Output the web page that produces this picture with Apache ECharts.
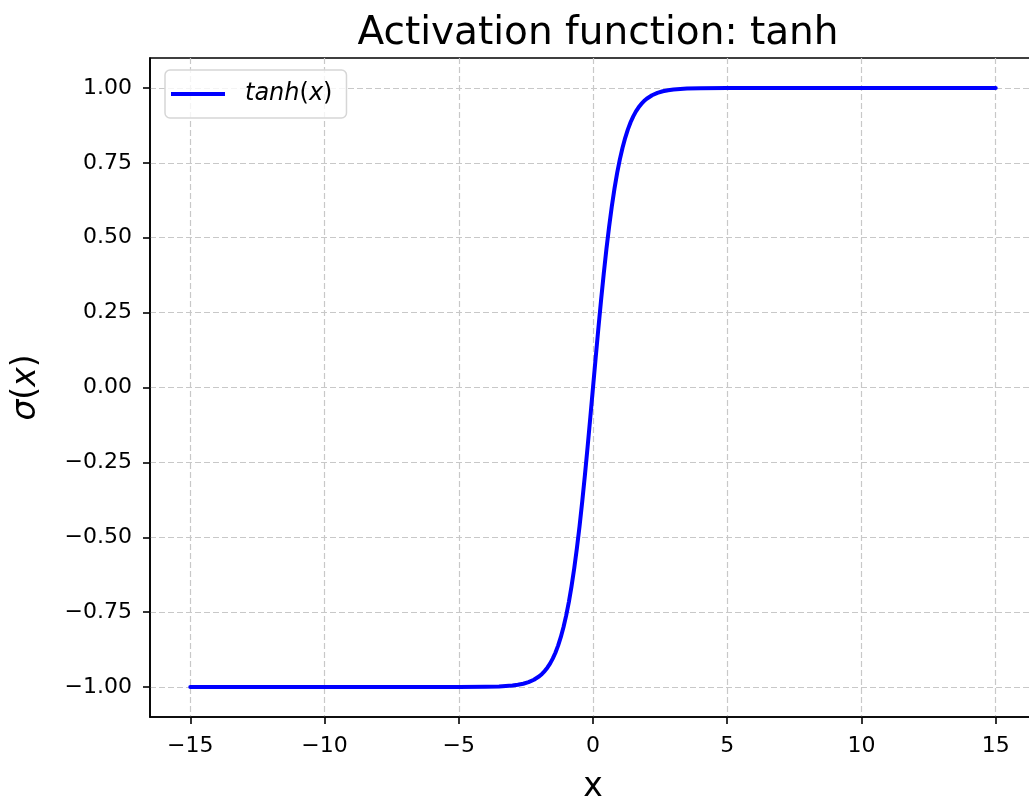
<!DOCTYPE html>
<html>
<head>
<meta charset="utf-8">
<script src="https://cdn.jsdelivr.net/npm/echarts@6/dist/echarts.min.js"></script>
<style>
html,body{margin:0;padding:0;background:#fff;}
#c{width:1029px;height:799px;}
</style>
</head>
<body>
<div id="c"></div>
<script>
// Data
const xValues = [-15, -10, -5, -4, -3.5, -3, -2.8, -2.6, -2.4, -2.2, -2, -1.9, -1.8, -1.7, -1.6, -1.5, -1.4, -1.3, -1.2, -1.1,
                 -1, -0.9, -0.8, -0.7, -0.6, -0.5, -0.4, -0.3, -0.2, -0.1, 0,
                 0.1, 0.2, 0.3, 0.4, 0.5, 0.6, 0.7, 0.8, 0.9, 1, 1.1, 1.2, 1.3, 1.4, 1.5, 1.6, 1.7, 1.8, 1.9, 2,
                 2.2, 2.4, 2.6, 2.8, 3, 3.5, 4, 5, 10, 15];
const yValues = [-1.0, -1.0, -0.9999, -0.9993, -0.9982, -0.9951, -0.9926, -0.9891, -0.9837, -0.9757, -0.964, -0.9562, -0.9468, -0.9354, -0.9217, -0.9051, -0.8854, -0.8617, -0.8337, -0.8005,
                 -0.7616, -0.7163, -0.664, -0.6044, -0.537, -0.4621, -0.3799, -0.2913, -0.1974, -0.0997, 0,
                 0.0997, 0.1974, 0.2913, 0.3799, 0.4621, 0.537, 0.6044, 0.664, 0.7163, 0.7616, 0.8005, 0.8337, 0.8617, 0.8854, 0.9051, 0.9217, 0.9354, 0.9468, 0.9562, 0.964,
                 0.9757, 0.9837, 0.9891, 0.9926, 0.9951, 0.9982, 0.9993, 0.9999, 1.0, 1.0];
const xTicks = [-15, -10, -5, 0, 5, 10, 15];
const yTicks = [-1, -0.75, -0.5, -0.25, 0, 0.25, 0.5, 0.75, 1];
const titleText = 'Activation function: tanh';
const seriesName = 'tanh(x)';

const FONT = 'DejaVu Sans';
const minus = v => String(v).replace('-', '\u2212');
const fmtY = v => (v < 0 ? '\u2212' : '') + Math.abs(v).toFixed(2);

const chart = echarts.init(document.getElementById('c'), null, {renderer: 'canvas'});
const gridLine = {show: true, lineStyle: {color: '#c8c8c8', width: 1.2, type: [6, 3]}};
chart.setOption({
  animation: false,
  backgroundColor: '#fff',
  title: {
    text: titleText,
    left: 593, top: 9, textAlign: 'center',
    textStyle: {fontFamily: FONT, fontSize: 39, fontWeight: 'normal', color: '#000'}
  },
  legend: {
    show: true,
    left: 165, top: 70,
    data: [{name: seriesName}],
    itemWidth: 54, itemHeight: 4,
    padding: [12, 14, 12, 6],
    borderColor: '#d6d6d6', borderWidth: 1.5, borderRadius: 5,
    backgroundColor: 'rgba(255,255,255,0.8)',
    icon: 'rect',
    formatter: () => '{i|tanh}{n|(}{i|x}{n|)}',
    textStyle: {
      fontFamily: FONT, fontSize: 24, color: '#000', padding: [0, 0, 0, 15],
      rich: {
        i: {fontFamily: FONT, fontSize: 24, fontStyle: 'italic', color: '#000'},
        n: {fontFamily: FONT, fontSize: 24, color: '#000'}
      }
    }
  },
  grid: {left: 150, top: 58, width: 886, height: 659, containLabel: false, outerBoundsMode: 'none',
         show: true, borderColor: '#000', borderWidth: 1.6, backgroundColor: 'transparent'},
  xAxis: {
    type: 'value', min: -16.5, max: 16.5,
    name: 'x', nameLocation: 'middle', nameGap: 54,
    nameTextStyle: {fontFamily: FONT, fontSize: 33, color: '#000'},
    axisLine: {show: true, onZero: false, lineStyle: {color: '#000', width: 1.6}},
    axisTick: {show: true, inside: false, length: 7, customValues: xTicks, lineStyle: {color: '#000', width: 1.6}},
    axisLabel: {customValues: xTicks, margin: 18, fontFamily: FONT, fontSize: 22, color: '#000', formatter: v => minus(v)},
    splitLine: Object.assign({customValues: xTicks}, gridLine)
  },
  yAxis: {
    type: 'value', min: -1.1, max: 1.1,
    name: '{i|σ}{n|(}{i|x}{n|)}', nameLocation: 'middle', nameGap: 107, nameRotate: 90,
    nameTextStyle: {
      fontFamily: FONT, fontSize: 33, color: '#000',
      rich: {
        i: {fontFamily: FONT, fontSize: 33, fontStyle: 'italic', color: '#000'},
        n: {fontFamily: FONT, fontSize: 33, color: '#000'}
      }
    },
    axisLine: {show: true, onZero: false, lineStyle: {color: '#000', width: 1.6}},
    axisTick: {show: true, inside: false, length: 7, customValues: yTicks, lineStyle: {color: '#000', width: 1.6}},
    axisLabel: {customValues: yTicks, margin: 18, fontFamily: FONT, fontSize: 22, color: '#000', formatter: v => fmtY(v)},
    splitLine: Object.assign({customValues: yTicks}, gridLine)
  },
  series: [{
    name: seriesName,
    type: 'line',
    data: xValues.map((x, i) => [x, yValues[i]]),
    showSymbol: false,
    smooth: false,
    lineStyle: {color: '#0000ff', width: 4, cap: 'round', join: 'round'},
    itemStyle: {color: '#0000ff'},
    clip: false
  }]
});
</script>
</body>
</html>
